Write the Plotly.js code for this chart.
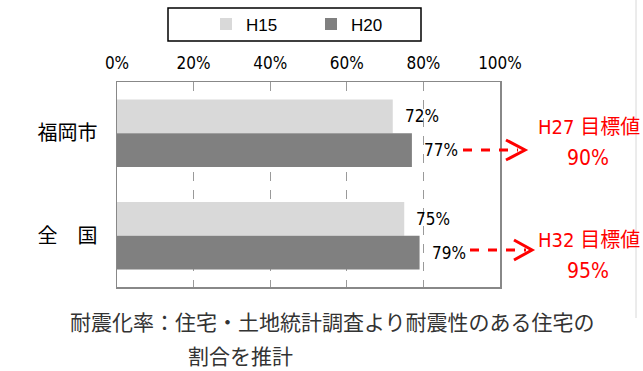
<!DOCTYPE html>
<html>
<head>
<meta charset="utf-8">
<script src="https://cdn.plot.ly/plotly-3.0.1.min.js"></script>
<style>html,body{margin:0;padding:0;background:#fff;}#chart{width:643px;height:371px;}</style>
</head>
<body>
<div id="chart"></div>
<script>
// ---- data ----
const categories = ['福岡市', '全\u3000国'];
const seriesNames = ['H15', 'H20'];
const valuesH15 = [72, 75];
const valuesH20 = [77, 79];
const xTickValues = [0, 20, 40, 60, 80, 100];
const targetLabels = ['H27 目標値', 'H32 目標値'];
const targetValues = ['90%', '95%'];
const footnoteLines = ['耐震化率：住宅・土地統計調査より耐震性のある住宅の', '割合を推計'];

// ---- layout helpers (pixel -> paper for decorations) ----
const L = 117, R = 500, T = 82, B = 287;
const pxX = p => (p - L) / (R - L);
const pxY = p => (B - p) / (B - T);

const numFont = 'DejaVu Sans Condensed, Liberation Sans, Noto Sans CJK JP, sans-serif';
const jpFont = 'Noto Sans CJK JP, sans-serif';

const traces = [
  {type: 'bar', orientation: 'h', name: seriesNames[0], y: categories, x: valuesH15,
   marker: {color: '#d9d9d9'}, hoverinfo: 'none'},
  {type: 'bar', orientation: 'h', name: seriesNames[1], y: categories, x: valuesH20,
   marker: {color: '#808080'}, hoverinfo: 'none'}
];

const annotations = [];
// value labels
[valuesH15, valuesH20].forEach((vals, s) => {
  vals.forEach((v, i) => {
    annotations.push({x: v, y: categories[i], xref: 'x', yref: 'y', text: v + '%',
      showarrow: false, xanchor: 'left', xshift: 10, yshift: s === 0 ? 17 : -17,
      font: {family: numFont, size: 17, color: '#000'}});
  });
});
// target texts
const targetRowsPx = [[127, 158], [240, 271]];
targetLabels.forEach((t, i) => {
  annotations.push({x: pxX(589), y: pxY(targetRowsPx[i][0]), xref: 'paper', yref: 'paper', text: t,
    showarrow: false, xanchor: 'center', yanchor: 'middle', font: {family: numFont, size: 20, color: '#ff0000'}});
  annotations.push({x: pxX(588), y: pxY(targetRowsPx[i][1]), xref: 'paper', yref: 'paper', text: targetValues[i],
    showarrow: false, xanchor: 'center', yanchor: 'middle', font: {family: numFont, size: 21, color: '#ff0000'}});
});
// footnote
annotations.push({x: pxX(68), y: pxY(321), xref: 'paper', yref: 'paper', text: footnoteLines[0],
  showarrow: false, xanchor: 'left', yanchor: 'middle', font: {family: jpFont, size: 21, color: '#333'}});
annotations.push({x: pxX(186), y: pxY(355), xref: 'paper', yref: 'paper', text: footnoteLines[1],
  showarrow: false, xanchor: 'left', yanchor: 'middle', font: {family: jpFont, size: 21, color: '#333'}});

const shapes = [];
const arrowPx = [
  {x0: 463, x1: 518, y: 150, cx: 506, tip: 525, h: 10},
  {x0: 470, x1: 526, y: 250, cx: 514, tip: 532, h: 10}
];
arrowPx.forEach(a => {
  shapes.push({type: 'line', xref: 'paper', yref: 'paper', x0: pxX(a.x0), x1: pxX(a.x1), y0: pxY(a.y), y1: pxY(a.y),
    line: {color: '#ff0000', width: 3, dash: 'dash'}});
  shapes.push({type: 'path', xref: 'paper', yref: 'paper',
    path: `M${pxX(a.cx)},${pxY(a.y - a.h)} L${pxX(a.tip)},${pxY(a.y)} L${pxX(a.cx)},${pxY(a.y + a.h)}`,
    line: {color: '#ff0000', width: 3}});
});
// page border line at right
shapes.push({type: 'line', xref: 'paper', yref: 'paper', x0: pxX(636), x1: pxX(636), y0: pxY(0), y1: pxY(318),
  line: {color: '#d8d8d8', width: 1}});
// legend frame
shapes.push({type: 'rect', xref: 'paper', yref: 'paper', x0: pxX(168), x1: pxX(421), y0: pxY(8), y1: pxY(41),
  line: {color: '#000', width: 1.5}, fillcolor: 'rgba(0,0,0,0)'});

const layout = {
  width: 643, height: 371,
  margin: {l: L, r: 643 - R, t: T, b: 371 - B, pad: 0},
  paper_bgcolor: '#fff', plot_bgcolor: '#fff',
  barmode: 'group', bargap: 0.34, bargroupgap: 0,
  showlegend: true,
  legend: {orientation: 'h', xref: 'container', yref: 'container', x: 206 / 643, xanchor: 'left',
    y: 1 - 24.5 / 371, yanchor: 'middle', borderwidth: 0, bgcolor: 'rgba(0,0,0,0)',
    entrywidth: 60, entrywidthmode: 'pixels', traceorder: 'normal',
    font: {family: 'Liberation Sans, Arial, sans-serif', size: 17, color: '#000'}},
  xaxis: {side: 'top', range: [0, 100], tickvals: xTickValues, ticktext: xTickValues.map(v => v + '%'),
    showgrid: true, gridcolor: '#9a9a9a', griddash: 'dash', gridwidth: 1,
    zeroline: false, showline: true, mirror: true, linecolor: '#888', linewidth: 1.5,
    ticks: '', ticklabelstandoff: 5, fixedrange: true,
    tickfont: {family: numFont, size: 17, color: '#000'}},
  yaxis: {autorange: 'reversed', type: 'category', showgrid: false, zeroline: false,
    showline: true, mirror: true, linecolor: '#888', linewidth: 1.5, ticks: '', ticklabelstandoff: 14,
    fixedrange: true, tickfont: {family: jpFont, size: 20, color: '#000'}},
  annotations: annotations,
  shapes: shapes
};

Plotly.newPlot('chart', traces, layout, {staticPlot: true, displayModeBar: false});
</script>
</body>
</html>
